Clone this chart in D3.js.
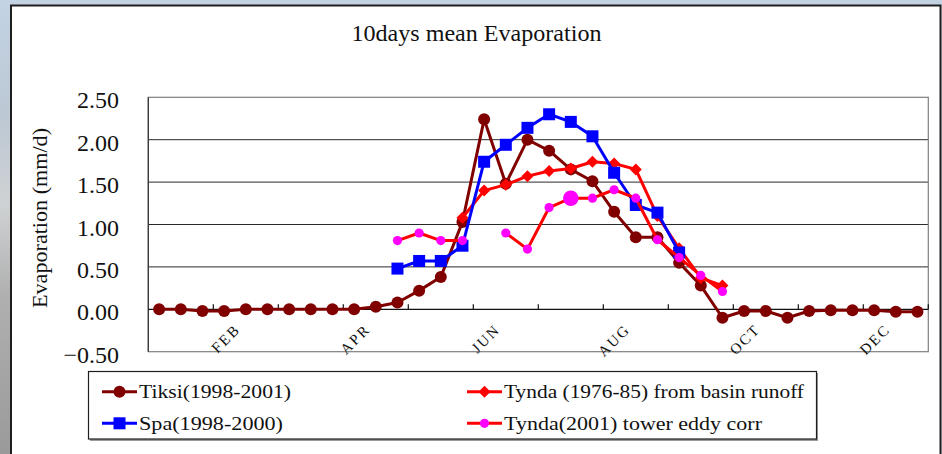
<!DOCTYPE html>
<html>
<head>
<meta charset="utf-8">
<script src="https://cdn.jsdelivr.net/npm/d3@7"></script>
<style>
  html, body { margin: 0; padding: 0; background: #ffffff; }
  svg { display: block; }
  text { font-family: "Liberation Serif", "DejaVu Serif", serif; fill: #111; }
</style>
</head>
<body>
<svg id="chart" width="942" height="454"></svg>
<script>
// ---------------- data ----------------
const categories = [
  "JAN1","JAN2","JAN3","FEB1","FEB2","FEB3","MAR1","MAR2","MAR3",
  "APR1","APR2","APR3","MAY1","MAY2","MAY3","JUN1","JUN2","JUN3",
  "JUL1","JUL2","JUL3","AUG1","AUG2","AUG3","SEP1","SEP2","SEP3",
  "OCT1","OCT2","OCT3","NOV1","NOV2","NOV3","DEC1","DEC2","DEC3"
];
const tickLabelCategories = ["FEB1","APR1","JUN1","AUG1","OCT1","DEC1"];
const tickLabels = ["FEB","APR","JUN","AUG","OCT","DEC"];
const yTicks = [-0.5, 0, 0.5, 1.0, 1.5, 2.0, 2.5];

const tiksi = [0.00,0.00,-0.02,-0.02,0.00,0.00,0.00,0.00,0.00,
               0.00,0.03,0.08,0.22,0.38,1.03,2.24,1.48,2.00,
               1.87,1.65,1.51,1.15,0.85,0.85,0.55,0.28,-0.10,
               -0.02,-0.02,-0.10,-0.02,-0.01,-0.01,-0.01,-0.03,-0.03];
const spa = [null,null,null,null,null,null,null,null,null,
             null,null,0.48,0.57,0.57,0.75,1.74,1.94,2.14,
             2.30,2.21,2.04,1.61,1.23,1.14,0.67,null,null,
             null,null,null,null,null,null,null,null,null];
const tyndaRunoff = [null,null,null,null,null,null,null,null,null,
                     null,null,null,null,null,1.08,1.40,1.47,1.57,
                     1.63,1.66,1.74,1.72,1.65,1.10,0.72,0.37,0.28,
                     null,null,null,null,null,null,null,null,null];
const tyndaTower = [null,null,null,null,null,null,null,null,null,
                    null,null,0.81,0.90,0.81,0.81,null,0.90,0.71,
                    1.20,1.31,1.31,1.41,1.31,0.82,0.61,0.40,0.21,
                    null,null,null,null,null,null,null,null,null];
const towerHighlight = "JUL2";

const titleText = "10days mean Evaporation";
const yTitle = "Evaporation (mm/d)";
const legendNames = ["Tiksi(1998-2001)", "Tynda (1976-85) from basin runoff",
                     "Spa(1998-2000)", "Tynda(2001) tower eddy corr"];

// ---------------- layout ----------------
const svg = d3.select("#chart");
const W = 942, H = 454;
const plot = {left: 148.3, right: 928.3, top: 97.3, bottom: 351.7};

// background / slide frame
const defs = svg.append("defs");
const lg = defs.append("linearGradient").attr("id", "leftStrip")
  .attr("x1", 0).attr("y1", 0).attr("x2", 0).attr("y2", 1);
[["0%","#c3d3e4"],["25%","#bcc8d4"],["45%","#cfd2d4"],["65%","#b0b0b0"],["100%","#9a9a9a"]]
  .forEach(([o,c]) => lg.append("stop").attr("offset", o).attr("stop-color", c));

svg.append("rect").attr("x",0).attr("y",0).attr("width",W).attr("height",H).attr("fill","#c4d3e3");
svg.append("rect").attr("x",0).attr("y",0).attr("width",11).attr("height",H).attr("fill","url(#leftStrip)");
svg.append("rect").attr("x",941).attr("y",6).attr("width",1).attr("height",H).attr("fill","#e2e7ee");
svg.append("rect").attr("x",11).attr("y",5.5).attr("width",929.5).attr("height",H)
  .attr("fill","#ffffff").attr("stroke","#1e1e1e").attr("stroke-width",2);

// scales
const x = d3.scaleBand().domain(categories).range([plot.left, plot.right]).padding(0);
const y = d3.scaleLinear().domain([-0.5, 2.5]).range([plot.bottom, plot.top]);
const cx = c => x(c) + x.bandwidth() / 2;

// gridlines
svg.append("g").selectAll("line").data(yTicks.filter(v => v > -0.5 && v < 2.5 && v !== 0))
  .join("line")
  .attr("x1", plot.left).attr("x2", plot.right)
  .attr("y1", d => y(d)).attr("y2", d => y(d))
  .attr("stroke", "#2a2a2a").attr("stroke-width", 1);

// plot frame (gray)
svg.append("rect").attr("x", plot.left).attr("y", plot.top)
  .attr("width", plot.right - plot.left).attr("height", plot.bottom - plot.top)
  .attr("fill", "none").attr("stroke", "#7f7f7f").attr("stroke-width", 1.2);
// left value axis line
svg.append("line").attr("x1", plot.left).attr("x2", plot.left)
  .attr("y1", plot.top).attr("y2", plot.bottom).attr("stroke", "#333").attr("stroke-width", 1.2);

// y tick labels
const fmt = d3.format(".2f");
svg.append("g").selectAll("text").data(yTicks).join("text")
  .attr("x", 119).attr("y", d => y(d) + 11)
  .attr("text-anchor", "end").attr("font-size", 24).attr("fill", "#1a1a1a")
  .text(d => fmt(d));

// category axis at 0
const y0 = y(0);
svg.append("line").attr("x1", plot.left).attr("x2", plot.right)
  .attr("y1", y0).attr("y2", y0).attr("stroke", "#111").attr("stroke-width", 1.3);
const monthBoundaries = categories.filter((c, i) => i % 3 === 0 && i > 0).map(c => x(c)).concat([plot.right]);
svg.append("g").selectAll("line").data(monthBoundaries).join("line")
  .attr("x1", d => d).attr("x2", d => d)
  .attr("y1", y0 - 5).attr("y2", y0)
  .attr("stroke", "#111").attr("stroke-width", 1.2);

svg.append("g").selectAll("text").data(tickLabelCategories).join("text")
  .attr("transform", d => `translate(${cx(d) + 17},${y0 + 21}) rotate(-45)`)
  .attr("text-anchor", "end").attr("font-size", 15).attr("letter-spacing", 2)
  .attr("fill", "#222")
  .text((d, i) => tickLabels[i]);

// titles
svg.append("text").attr("x", 476.5).attr("y", 41)
  .attr("text-anchor", "middle").attr("font-size", 24)
  .attr("textLength", 250).attr("lengthAdjust", "spacingAndGlyphs")
  .text(titleText);
svg.append("text").attr("transform", "translate(47,218) rotate(-90)")
  .attr("text-anchor", "middle").attr("font-size", 20)
  .attr("textLength", 180).attr("lengthAdjust", "spacingAndGlyphs")
  .text(yTitle);

// series
const series = [
  {name: legendNames[0], values: tiksi, line: "#800000", fill: "#800000", shape: "circle", r: 6},
  {name: legendNames[1], values: tyndaRunoff, line: "#ff0000", fill: "#ff0000", shape: "diamond", r: 6},
  {name: legendNames[2], values: spa, line: "#0000ff", fill: "#0000ff", shape: "square", r: 6},
  {name: legendNames[3], values: tyndaTower, line: "#ff0000", fill: "#ff00ff", shape: "circle", r: 4.6}
];

function drawMarker(g, s, px, py, r) {
  if (s.shape === "circle") {
    g.append("circle").attr("cx", px).attr("cy", py).attr("r", r).attr("fill", s.fill);
  } else if (s.shape === "square") {
    g.append("rect").attr("x", px - r).attr("y", py - r).attr("width", 2 * r).attr("height", 2 * r).attr("fill", s.fill);
  } else {
    g.append("path").attr("d", `M${px},${py - r}L${px + r},${py}L${px},${py + r}L${px - r},${py}Z`).attr("fill", s.fill);
  }
}

const lineGen = d3.line().defined(d => d.v != null).x(d => cx(d.c)).y(d => y(d.v));
series.forEach(s => {
  const pts = categories.map((c, i) => ({c, v: s.values[i]}));
  const g = svg.append("g");
  g.append("path").attr("d", lineGen(pts)).attr("fill", "none")
    .attr("stroke", s.line).attr("stroke-width", 3).attr("stroke-linejoin", "round");
  pts.filter(p => p.v != null).forEach(p => {
    const r = (s.values === tyndaTower && p.c === towerHighlight) ? 7.8 : s.r;
    drawMarker(g, s, cx(p.c), y(p.v), r);
  });
});

// legend
const leg = svg.append("g");
leg.append("rect").attr("x", 90).attr("y", 373).attr("width", 728).attr("height", 68)
  .attr("fill", "#9a9a9a");
leg.append("rect").attr("x", 88.5).attr("y", 371.5).attr("width", 728).attr("height", 67.5)
  .attr("fill", "#ffffff").attr("stroke", "#1e1e1e").attr("stroke-width", 1.2);
const legPos = [
  {x: 102, y: 391.7, w: 152},
  {x: 467, y: 391.7, w: 300},
  {x: 102, y: 423.3, w: 144},
  {x: 467, y: 423.3, w: 258}
];
series.forEach((s, i) => {
  const p = legPos[i];
  leg.append("line").attr("x1", p.x).attr("x2", p.x + 35).attr("y1", p.y).attr("y2", p.y)
    .attr("stroke", s.line).attr("stroke-width", 3);
  drawMarker(leg, s, p.x + 17.5, p.y, s.shape === "circle" && i === 3 ? 4.6 : 6);
  leg.append("text").attr("x", p.x + 37).attr("y", p.y + 6.5)
    .attr("font-size", 19).attr("textLength", p.w).attr("lengthAdjust", "spacingAndGlyphs")
    .text(s.name);
});
</script>
</body>
</html>
